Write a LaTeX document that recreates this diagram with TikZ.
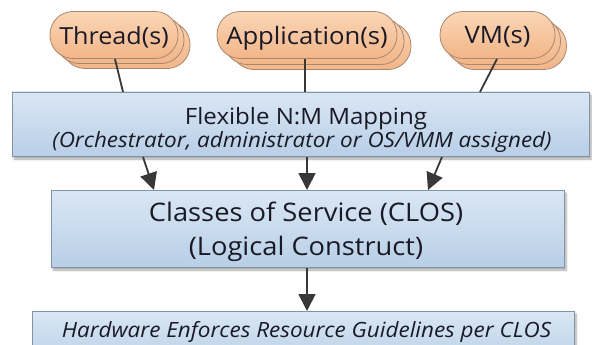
\documentclass[tikz,border=0pt]{standalone}
\usepackage{fontspec}
\setmainfont[FakeStretch=1.07]{Open Sans}
\usetikzlibrary{arrows.meta,shadows.blur,calc}
\definecolor{pilltop}{HTML}{FBD6B6}
\definecolor{pillbot}{HTML}{F2B588}
\definecolor{pillline}{HTML}{A9876E}
\definecolor{boxtop}{HTML}{DAE7F4}
\definecolor{boxbot}{HTML}{B8CFE7}
\definecolor{boxline}{HTML}{8393A4}
\definecolor{ink}{HTML}{1A1A26}
\definecolor{conn}{HTML}{383838}
\tikzset{
  pill/.style={draw=pillline, line width=0.8pt, top color=pilltop, bottom color=pillbot,
    rectangle, rounded corners=23pt, minimum height=47pt, inner sep=0pt},
  backpill/.style={pill, top color=pilltop!90!pillbot, bottom color=pillbot},
  panel/.style={draw=boxline, line width=0.8pt, top color=boxtop, bottom color=boxbot,
    blur shadow={shadow xshift=2pt, shadow yshift=-3pt, shadow blur steps=6, shadow opacity=35}},
  lbl/.style={anchor=base, inner sep=0pt, text=ink},
  conline/.style={draw=conn, line width=1.8pt},
  arr/.style={conline, -{Triangle[width=17pt,length=17pt]}}
}
\begin{document}
\begin{tikzpicture}[x=1pt,y=-1pt]
\useasboundingbox (0,0) rectangle (592,345);
% back pills
\node[backpill, minimum width=128pt] (thr2) at (126,45) {};
\node[backpill, minimum width=128pt] (thr1) at (120,40) {};
\node[pill, minimum width=128pt] (thr) at (114,35) {};
\node[lbl, font=\fontsize{23.5}{28}\selectfont] (thrt) at (114,45) {Thread(s)};

\node[backpill, minimum width=180pt] (app2) at (321,46) {};
\node[backpill, minimum width=180pt] (app1) at (314,41) {};
\node[pill, minimum width=180pt] (app) at (307,35) {};
\node[lbl, font=\fontsize{24}{28}\selectfont] (appt) at (307,45) {Application(s)};

\node[backpill, minimum width=115pt] (vm2) at (509,46) {};
\node[backpill, minimum width=115pt] (vm1) at (503,41) {};
\node[pill, minimum width=115pt] (vm) at (497.5,35) {};
\node[lbl, font=\fontsize{24}{28}\selectfont] (vmt) at (497.5,44) {VM(s)};

% panels
\path[panel] (12,92) rectangle (589,156);
\node[inner sep=0pt, minimum width=577pt, minimum height=64pt] (flex) at (300.5,124) {};
\node[lbl, font=\fontsize{22.5}{26}\selectfont] (flext1) at (306,124.5) {Flexible N:M Mapping};
\node[lbl, font=\fontsize{21}{25}\selectfont\itshape] (flext2) at (302,147) {(Orchestrator, administrator or OS/VMM assigned)};

\path[panel] (51,190) rectangle (564,267);
\node[inner sep=0pt, minimum width=513pt, minimum height=77pt] (clos) at (307.5,228.5) {};
\node[lbl, font=\fontsize{25.5}{30}\selectfont] (clost1) at (306,221) {Classes of Service (CLOS)};
\node[lbl, font=\fontsize{25.5}{30}\selectfont] (clost2) at (306,255) {(Logical Construct)};

\path[panel] (32,311) rectangle (574,365);
\node[inner sep=0pt, minimum width=542pt, minimum height=54pt] (hw) at (303,338) {};
\node[lbl, font=\fontsize{21}{25}\selectfont\itshape] (hwt) at (306.5,337) {Hardware Enforces Resource Guidelines per CLOS};

% connectors pills -> flex
\coordinate (ta) at (115,59);
\coordinate (tb) at (123,92);
\coordinate (aa) at (305,59);
\coordinate (ab) at (305,92);
\coordinate (va) at (497,59);
\coordinate (vb) at (480,92);
\draw[conline] (ta) -- (tb);
\draw[conline] (aa) -- (ab);
\draw[conline] (va) -- (vb);

% arrows flex -> clos
\coordinate (f1) at (143,157);
\coordinate (c1) at (154,190);
\coordinate (f2) at (307,157);
\coordinate (c2) at (307,190);
\coordinate (f3) at (442,157);
\coordinate (c3) at (428,190);
\draw[arr] (f1) -- (c1);
\draw[arr] (f2) -- (c2);
\draw[arr] (f3) -- (c3);

% clos -> hw
\coordinate (c4) at (307,268);
\coordinate (h4) at (307,311);
\draw[arr] (c4) -- (h4);
\end{tikzpicture}
\end{document}
